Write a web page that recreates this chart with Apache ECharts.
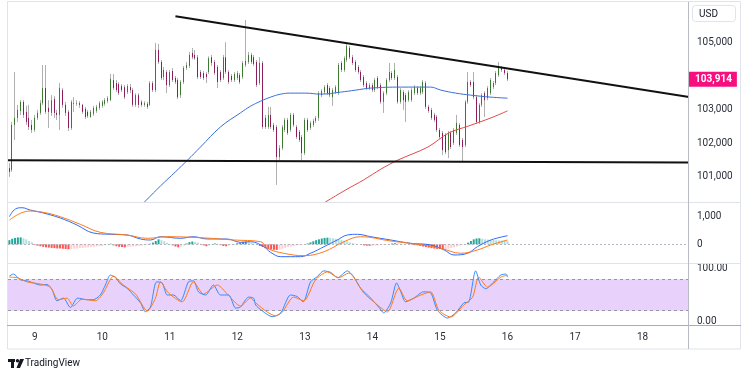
<!DOCTYPE html>
<html><head><meta charset="utf-8">
<script src="https://cdn.jsdelivr.net/npm/echarts@6/dist/echarts.min.js"></script>
<style>html,body{margin:0;padding:0;background:#fff}#c{width:749px;height:375px}</style>
</head><body><div id="c"></div>
<script>
// ---- data (hourly candles, hour 0 = day 9 00:00) ----
const firstHour = -9, lastAxisHour = 232;
const dayLabels = ['9','10','11','12','13','14','15','16','17','18'];
const priceTicks = [101000,102000,103000,105000];
const macdTicks = [0,1000];
const stochTicks = [0,100];
const stochBand = [20,80];
// [open, close, low, high]
const ohlc = [
[101260,101150,101000,101410],[101200,102550,101150,102640],[102550,102760,102100,104130],[102760,103000,102640,103150],
[102970,103240,102850,103290],[103240,102850,102760,103290],[102940,102640,102550,103120],[102760,102490,102400,103150],
[102550,102400,102310,102700],[102400,102760,102340,102850],[102760,102910,102700,103000],[102910,103200,102850,103290],
[103200,103650,103150,104340],[103650,102940,102880,104340],[103060,102940,102460,103290],[102910,103290,102820,103440],
[103320,102910,102760,103410],[102910,102850,102700,103000],[102850,103650,102400,103800],[103590,103150,103060,103650],
[103150,102910,102820,103240],[102940,102460,102370,103000],[102460,103240,102400,103290],[103200,103180,102940,103380],
[103180,103200,103120,103290],[103200,103150,103060,103260],[103150,102940,102880,103180],[103030,102790,102730,103090],
[102940,102820,102760,103000],[102790,102940,102760,103000],[102880,103060,102820,103120],[102970,103090,102910,103150],
[103060,103200,103000,103260],[103120,103240,103060,103290],[103180,103290,103120,103350],[103260,103350,103200,103410],
[103290,103920,103260,104070],[103890,103650,103590,104070],[103800,103590,103530,103890],[103770,103500,103440,103830],
[103710,103590,103530,103770],[103680,103380,103320,103740],[103530,103710,103470,103770],[103680,103590,103500,103770],
[103590,103150,103090,103650],[103150,103440,103090,103500],[103440,103150,103060,103500],[103240,103150,103090,103290],
[103150,103200,103090,103260],[103180,103090,103030,103240],[103150,103800,103120,103860],[103800,103590,103530,103860],
[103590,104790,103530,105000],[104790,104430,104370,104970],[104430,103950,103890,104490],[103980,104190,103890,104280],
[104130,103740,103500,104190],[103740,104130,103680,104190],[104160,103890,103830,104250],[103950,103830,103770,104010],
[103890,103380,103320,103950],[103440,103830,103350,103890],[103830,104250,103770,104310],[104250,104340,104190,104430],
[104310,104640,104250,104730],[104700,104570,104510,104850],[104640,104540,104490,104790],[104570,103980,103920,104640],
[104130,103980,103920,104190],[104100,103950,103890,104160],[104070,103980,103800,104130],[104130,104540,104070,104600],
[104570,104400,104310,104640],[104430,104100,104040,104490],[104280,103830,103650,104340],[104130,103890,103830,104190],
[103950,104570,103890,104640],[104570,104130,104070,105020],[104130,103830,103770,104190],[104010,103890,103830,104070],
[103890,104070,103830,104130],[103950,104100,103890,104160],[104040,103830,103770,104100],[103980,104400,103920,104460],
[104340,104460,104280,105680],[104430,104640,104370,104730],[104640,104430,104370,104700],[104570,104370,104310,104640],
[104430,103740,103680,104490],[103800,104400,103740,104570],[104400,102490,102430,104460],[102760,102490,102430,102850],
[102490,102850,102430,103090],[102850,102490,102430,103090],[102550,102400,102340,102610],[102490,101590,100760,102550],
[101590,101860,101500,101950],[101860,102490,101800,102550],[102400,102700,102340,102760],[102700,102310,102250,102760],
[102400,102850,102340,102910],[102850,102550,102490,102910],[102490,102190,102130,102550],[102340,102100,102040,102400],
[102190,101710,101500,102250],[101710,102700,101650,102760],[102700,102400,102340,102760],[102460,102610,102400,102670],
[102550,102670,102490,102730],[102670,102760,102610,102820],[102760,103500,102670,103560],[103440,103560,103380,103620],
[103530,103680,103470,103740],[103740,103500,103440,103800],[103650,103440,103380,103710],[103380,103590,103120,103650],
[103530,103680,103470,103740],[103500,104340,103440,104400],[104400,104190,104130,104460],[104190,104540,104130,104600],
[104490,104910,104430,105000],[104850,104570,104510,104910],[104570,104400,104340,104640],[104430,104190,104130,104490],
[104280,104130,104070,104340],[104130,103890,103830,104190],[103980,103740,103680,104040],[103800,103650,103590,103860],
[103650,103740,103590,103800],[103740,103590,103530,103800],[103590,103890,103530,103950],[103950,103680,103620,104010],
[103740,103240,103180,103800],[103240,103500,102910,103560],[103500,103890,103440,103950],[103890,104130,103830,104400],
[104100,103950,103890,104160],[103950,104190,103890,104400],[103980,103240,103180,104040],[103240,103590,103180,103650],
[103530,103290,103000,103590],[103440,103240,102640,103500],[103290,103530,103240,103590],[103290,103590,103240,103650],
[103500,103680,103440,103740],[103650,103500,103440,103710],[103500,103650,103440,103710],[103530,103830,103470,103890],
[103800,103090,103030,103860],[103090,102970,102910,103150],[103000,102760,102700,103060],[102850,102700,102640,102910],
[102790,102400,102340,102850],[102400,102190,102130,102460],[102310,101800,101650,102370],[102250,101740,101680,102310],
[101800,102310,101560,102370],[102310,101890,101830,102370],[102010,102400,101950,102460],[102310,102610,102250,102850],
[102550,101950,101890,102610],[102100,101890,101440,102160],[101950,103240,101890,103290],[103240,103830,103180,104130],
[103830,103740,103680,103890],[103830,103380,103320,104130],[103380,102640,102580,103440],[102640,103150,102580,103200],
[103150,103440,103090,103500],[103500,103290,102790,103560],[103350,103650,103290,103710],[103500,103890,103440,103950],
[103680,103800,103620,103860],[103800,104100,103740,104160],[104040,104250,103980,104430],[104250,104190,104130,104310],
[104190,104100,104040,104250],[104100,103914,103860,104160]
];
// moving averages read at points [hour, price]
const maBlue = [[37.6,100130],[39.7,100310],[44.7,100730],[50,101150],[54.3,101500],[58.9,101890],[66,102490],[73.1,102910],
[76.7,103110],[80.3,103260],[83.8,103380],[87.4,103470],[90.9,103500],[96.3,103500],[101.6,103470],[108.7,103530],[114.1,103590],
[119.4,103650],[130.1,103680],[140.7,103680],[144.3,103590],[149.6,103500],[154.9,103440],[162.1,103380],[168,103350]];
const maRed = [[101.6,100160],[103.3,100250],[110.5,100610],[116.9,100910],[123,101230],[129,101500],[139.7,101890],
[147.1,102310],[154.2,102520],[162.1,102760],[168,102970]];
// drawn trend lines [hour, price]
const resistance = [[50,105797],[232.5,103384]];
const support = [[-9.5,101499],[232.5,101427]];
// MACD
const macdLine = [[-9,1000],[-6.9,1278],[-4.5,1325],[-1.6,1242],[3.1,1133],[9.1,952],[15,699],[20.8,409],[26.9,362],[32.8,337],
[37.6,192],[41.1,156],[44.7,275],[51.8,217],[56.4,275],[61.3,192],[68.4,192],[73.1,72],[76.7,94],[81.4,-87],[83.8,-290],[87.4,-449],
[94.5,-449],[98,-326],[102.8,-87],[107.5,156],[111.1,337],[114.7,362],[119.4,275],[126.5,156],[133.6,36],[140.7,-25],[145.5,-206],
[149,-387],[153.8,-326],[157.3,-87],[162.1,156],[168,311]];
const signalLine = [[-9,880],[-5.1,1122],[-1.6,1205],[3.1,1158],[9.1,999],[16.2,724],[23.3,434],[32.8,337],[40,217],[47.1,275],
[58.9,239],[70.7,156],[80.3,94],[82.6,-145],[88.5,-326],[95.7,-413],[102.8,-268],[109.9,94],[115.8,275],[126.5,119],[136,0],
[144.3,-145],[151.4,-326],[157.3,-206],[162.1,-25],[168,156]];
const macdHist = [150,200,230,250,250,220,180,120,70,-20,
-50,-70,-90,-110,-120,-130,-140,-150,-150,-160,
-170,-180,-170,-160,-150,-140,-130,-120,-110,-100,
-90,-80,-70,-60,-40,-20,20,-40,-70,-90,
-100,-110,-100,-90,-80,-70,-60,-50,-30,-20,
20,60,120,180,150,110,60,20,-40,-80,
-110,-90,-50,30,80,100,90,60,20,-40,
-70,-50,-20,30,20,-30,-60,-70,-50,-20,
10,40,60,90,100,90,60,20,-20,-60,
-100,-140,-170,-190,-200,-205,-190,-160,-130,-100,
-80,-60,-40,-30,-20,0,30,70,110,150,
180,210,230,240,235,220,200,180,160,130,
100,70,40,20,0,-20,-40,-50,-55,-50,
-45,-40,-30,-20,-10,10,30,40,35,20,
10,0,-10,-20,-30,-40,-60,-80,-100,-120,
-140,-155,-165,-170,-175,-170,-160,-140,-110,-80,
-50,-20,10,60,120,180,210,217,200,180,
175,165,155,145,140,135,130,125];
// Stochastic
const stochK = [[-9,86],[-7.6,90],[-5.1,79],[-2.7,77],[-0.5,73],[2,69],[4.4,70],[6.2,60],[7.9,39],[10.2,44],[12.7,26],[15.2,44],
[18.6,41],[20.8,41],[23.3,50],[25.1,69],[26.9,88],[28.7,83],[30.5,71],[32.8,63],[35.1,50],[37.6,35],[39.3,18],[41.1,27],[43.3,75],
[45.3,73],[47.1,50],[49.3,50],[51.8,39],[54.6,75],[56.4,77],[58.2,56],[60.7,50],[63.5,69],[66,50],[68.9,50],[71.4,25],[73.1,27],
[76,46],[77.8,44],[78.5,31],[80.9,19.5],[84.4,8.6],[87.4,15.7],[90.9,50],[93.3,47],[95.4,37],[98,75],[100.4,85],[102.7,96],
[105.2,93],[107.6,83],[111.1,96],[113.3,85],[115.8,63],[119.4,44],[122.2,27],[124,16],[126.5,35],[128.6,73],[130.1,56],[131.8,37],
[134.7,44],[138.2,56],[140.7,54],[143.1,21],[146.7,6],[149.6,16],[152.5,35],[154.3,37],[156.7,96],[158.5,69],[160.3,62],[163.1,75],
[165.6,88],[167.4,90],[168,84]];
const stochD = [[-9,84],[-6.3,83],[-2.7,75],[2,71],[5.5,65],[8.4,41],[11.5,44],[13.7,29],[16.8,42],[21.6,39],[24.4,54],[28,86],
[31.5,69],[35.8,52],[40,19.5],[42.9,44],[44.7,75],[47.5,54],[52.4,37],[56.4,75],[60,52],[64.9,69],[68.4,52],[73.1,29],[76.7,44],
[78.5,35],[82.6,17.6],[85.6,10],[88,17.6],[92,46],[95.6,39],[99.8,79],[104,94],[108,83],[111.6,92],[116.9,54],[121.8,31],
[125.3,17.6],[129.4,63],[132.4,39],[137.2,50],[140.7,56],[143.6,21],[147.8,8],[152.5,31],[155.6,46],[157.8,84],[160.9,65],
[165.6,84],[168,88]];

// ---- build ----
const hours = [];
for (let h = firstHour; h <= lastAxisHour; h++) hours.push(String(h));
const xMin = firstHour - 0.5, xMax = lastAxisHour + 0.5;
const fmt = v => Math.round(v).toLocaleString('en-US');
const bodies = ohlc.map(r => [r[0], r[1], Math.min(r[0], r[1]), Math.max(r[0], r[1])]);
const lastClose = ohlc[ohlc.length - 1][1];
const histData = macdHist.map((v, i) => {
  const p = i > 0 ? macdHist[i - 1] : 0;
  let c;
  if (v >= 0) c = v >= p ? '#26a69a' : '#b2dfdb';
  else c = v <= p ? '#ff5252' : '#ffcdd2';
  return { value: v, itemStyle: { color: c } };
});
const FONT = 'Roboto, "Liberation Sans", sans-serif';
const lab = { color: '#2a2e39', fontSize: 10, fontFamily: FONT };

const grids = [
  { left: 8, right: 60, top: 2, height: 200 },
  { left: 8, right: 60, top: 202, height: 61.5 },
  { left: 8, right: 60, top: 263.5, height: 62 }
];
const xAxes = [];
grids.forEach((g, gi) => {
  xAxes.push({ type: 'category', gridIndex: gi, data: hours, boundaryGap: true,
    axisLine: { show: false }, axisTick: { show: false }, splitLine: { show: false },
    axisLabel: gi === 2 ? { show: true, margin: 7, ...lab,
      interval: (i, v) => { const h = +v; return h >= 0 && h % 24 === 0; },
      formatter: v => dayLabels[(+v) / 24] } : { show: false } });
  xAxes.push({ type: 'value', gridIndex: gi, min: xMin, max: xMax, show: false });
});
const yBase = { position: 'right', axisLine: { show: false }, axisTick: { show: false }, splitLine: { show: false } };
const yAxes = [
  { ...yBase, type: 'value', gridIndex: 0, min: 100250, max: 106220,
    axisLabel: { ...lab, margin: 8, customValues: priceTicks, formatter: fmt } },
  { ...yBase, type: 'value', gridIndex: 1, min: -696, max: 1533,
    axisLabel: { ...lab, margin: 8, customValues: macdTicks, formatter: fmt } },
  { ...yBase, type: 'value', gridIndex: 2, min: -8.2, max: 110.1,
    axisLabel: { ...lab, margin: 8, customValues: stochTicks, formatter: v => v.toFixed(2) } }
];

const lineS = (name, data, xi, yi, color, w, smooth) => ({
  name, type: 'line', xAxisIndex: xi, yAxisIndex: yi, data, showSymbol: false, symbol: 'none',
  smooth: smooth, lineStyle: { color, width: w }, silent: true, z: 5
});

const option = {
  animation: false,
  backgroundColor: '#ffffff',
  textStyle: { fontFamily: FONT },
  grid: grids,
  xAxis: xAxes,
  yAxis: yAxes,
  title: { text: 'USD', left: 692, top: 5, padding: [4, 18, 3, 7],
    backgroundColor: '#fff', borderColor: '#e0e3eb', borderWidth: 1, borderRadius: 3,
    textStyle: { fontSize: 10, fontWeight: 'normal', color: '#131722', fontFamily: FONT } },
  series: [
    { name: 'wicks', type: 'candlestick', xAxisIndex: 0, yAxisIndex: 0, data: ohlc, barWidth: 1,
      itemStyle: { color: '#b0b0b0', color0: '#b0b0b0', borderColor: '#b0b0b0', borderColor0: '#b0b0b0', borderWidth: 1 },
      silent: true, z: 2 },
    { name: 'bodies', type: 'candlestick', xAxisIndex: 0, yAxisIndex: 0, data: bodies, barWidth: 1,
      itemStyle: { color: '#3b7a2f', color0: '#8e1b5a', borderColor: '#3b7a2f', borderColor0: '#8e1b5a', borderWidth: 1 },
      silent: true, z: 3 },
    { ...lineS('lastPrice', [], 1, 0, 'transparent', 0, false), z: 20,
      markLine: { silent: true, symbol: ['none', 'none'], lineStyle: { color: 'rgba(0,0,0,0)', width: 1 },
        data: [{ yAxis: lastClose }],
        label: { show: true, position: 'end', distance: 0, formatter: p => fmt(p.value),
          backgroundColor: '#f70f80', color: '#fff', padding: [3, 5, 2, 6], fontSize: 10, fontWeight: 'bold', fontFamily: FONT } } },
    lineS('ma50', maBlue, 1, 0, '#3a6fd8', 1, 0.4),
    lineS('ma200', maRed, 1, 0, '#e04a4a', 1, 0.3),
    lineS('resistance', resistance, 1, 0, '#111111', 2, false),
    lineS('support', support, 1, 0, '#111111', 2, false),
    { name: 'hist', type: 'bar', xAxisIndex: 2, yAxisIndex: 1, data: histData, barWidth: 2, silent: true, z: 2,
      markLine: { silent: true, symbol: ['none', 'none'], label: { show: false },
        lineStyle: { color: '#b2b5be', type: [2, 2], width: 1 }, data: [{ yAxis: 0 }] } },
    lineS('macd', macdLine, 3, 1, '#2f6bff', 1, 0.4),
    lineS('signal', signalLine, 3, 1, '#ff7a1a', 1, 0.4),
    { ...lineS('stochK', stochK, 5, 2, '#2f8cff', 1, 0.25),
      markArea: { silent: true, itemStyle: { color: '#e8d1fb' },
        data: [[{ yAxis: stochBand[0] }, { yAxis: stochBand[1] }]] },
      markLine: { silent: true, symbol: ['none', 'none'], label: { show: false },
        lineStyle: { color: '#9598a1', type: [3, 3], width: 1 },
        data: [{ yAxis: stochBand[0] }, { yAxis: stochBand[1] }] } },
    lineS('stochD', stochD, 5, 2, '#ff7a1a', 1, 0.25)
  ],
  graphic: [
    { type: 'rect', shape: { x: 7.5, y: 1.5, width: 733, height: 347.5 }, style: { fill: 'none', stroke: '#e0e3eb', lineWidth: 1 }, z: 100 },
    { type: 'line', shape: { x1: 7, y1: 202.5, x2: 741, y2: 202.5 }, style: { stroke: '#e0e3eb', lineWidth: 1 }, z: 100 },
    { type: 'line', shape: { x1: 7, y1: 263.5, x2: 741, y2: 263.5 }, style: { stroke: '#e0e3eb', lineWidth: 1 }, z: 100 },
    { type: 'line', shape: { x1: 7, y1: 325.5, x2: 741, y2: 325.5 }, style: { stroke: '#a9acb5', lineWidth: 1 }, z: 100 },
    { type: 'line', shape: { x1: 688.5, y1: 2, x2: 688.5, y2: 349 }, style: { stroke: '#b8bbc4', lineWidth: 1 }, z: 100 },
    { type: 'group', left: 8, top: 359, children: [
      { type: 'rect', shape: { x: 0, y: 0, width: 7, height: 3 }, style: { fill: '#131722' } },
      { type: 'rect', shape: { x: 3, y: 0, width: 3, height: 9 }, style: { fill: '#131722' } },
      { type: 'circle', shape: { cx: 9.5, cy: 1.7, r: 1.7 }, style: { fill: '#131722' } },
      { type: 'polygon', shape: { points: [[12, 0], [16, 0], [12, 9], [8.5, 9]] }, style: { fill: '#131722' } }
    ] },
    { type: 'text', left: 25, top: 358, style: { text: 'TradingView', fill: '#131722', fontSize: 10, fontFamily: FONT } }
  ]
};
const chart = echarts.init(document.getElementById('c'), null, { renderer: 'canvas' });
chart.setOption(option);
</script></body></html>
